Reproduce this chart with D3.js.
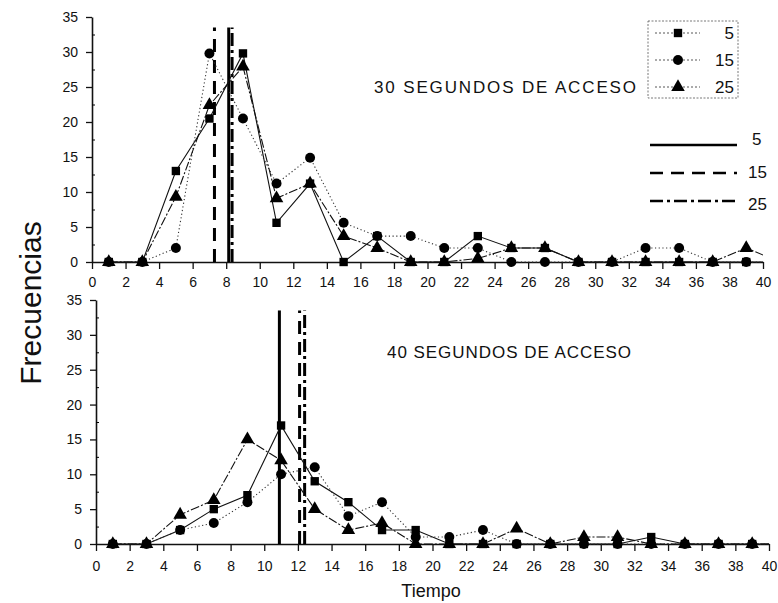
<!DOCTYPE html>
<html>
<head>
<meta charset="utf-8">
<script src="https://cdn.jsdelivr.net/npm/d3@7"></script>
<style>
  html, body { margin: 0; padding: 0; background: #fff; }
  svg { display: block; }
  text { font-family: "Liberation Sans", Arial, sans-serif; fill: #111; }
</style>
</head>
<body>
<svg id="chart" width="778" height="603"></svg>
<script>
// Time classes (odd seconds); 41 lies just past the axis and is clipped
const tiempo = [1, 3, 5, 7, 9, 11, 13, 15, 17, 19, 21, 23, 25, 27, 29, 31, 33, 35, 37, 39, 41];

// 30 s access: frequencies per series
const frec30_5  = [0, 0, 13, 20.5, 29.8, 5.6, 11.2, 0, 3.7, 0, 0, 3.7, 2, 2, 0, 0, 0, 0, 0, 0, 0];
const frec30_15 = [0, 0, 2, 29.8, 20.5, 11.2, 14.9, 5.6, 3.7, 3.7, 2, 2, 0, 0, 0, 0, 2, 2, 0, 0, 0];
const frec30_25 = [0, 0, 9.3, 22.4, 27.9, 9.1, 11.2, 3.7, 2, 0, 0, 0.5, 2, 2, 0, 0, 0, 0, 0, 2, 0];

// 40 s access: frequencies per series
const frec40_5  = [0, 0, 2, 5, 7, 17, 9, 6, 2, 2, 0, 0, 0, 0, 0, 0, 1, 0, 0, 0, 0];
const frec40_15 = [0, 0, 2, 3, 6, 10, 11, 4, 6, 1, 1, 2, 0, 0, 0, 0, 0, 0, 0, 0, 0];
const frec40_25 = [0, 0, 4.2, 6.3, 15, 12, 5, 2, 3, 0, 0, 0, 2.2, 0, 1, 1, 0, 0, 0, 0, 0];

// Mean times drawn as vertical reference lines (series 5, 15, 25)
const medias30 = [8.15, 7.3, 8.35];
const medias40 = [10.9, 12.1, 12.4];
const alturaMedia = 33.5;

const seriesNames = ["5", "15", "25"];
const xTicks = d3.range(0, 41, 2);
const yTicks = d3.range(0, 36, 5);
const yMinor = d3.range(2.5, 35, 5);

const svg = d3.select("#chart");

const serieStyle = [
  { symbol: d3.symbolSquare, size: 70, dash: null, width: 1.1, stroke: "#111" },
  { symbol: d3.symbolCircle, size: 78, dash: "1.2,2.5", width: 1.1, stroke: "#333" },
  { symbol: d3.symbolTriangle, size: 80, dash: "9,2,2,2", width: 1.1, stroke: "#111" }
];
const mediaStyle = [
  { dash: null },
  { dash: "13,8" },
  { dash: "13,4,3,4" }
];

function panel(cfg) {
  const x = d3.scaleLinear().domain([0, 40]).range(cfg.xr);
  const y = d3.scaleLinear().domain([0, 35]).range(cfg.yr);
  const g = svg.append("g");

  const clipId = "clip" + cfg.id;
  svg.append("defs").append("clipPath").attr("id", clipId)
    .append("rect").attr("x", cfg.xr[0] - 12).attr("y", 0)
    .attr("width", cfg.xr[1] - cfg.xr[0] + 12).attr("height", 603);

  // x axis
  const xa = g.append("g").attr("transform", `translate(0,${cfg.yr[0]})`)
    .call(d3.axisBottom(x).tickValues(xTicks).tickSize(7).tickPadding(cfg.xPad).tickSizeOuter(0));
  // y axis
  const ya = g.append("g").attr("transform", `translate(${cfg.xr[0]},0)`)
    .call(d3.axisLeft(y).tickValues(yTicks).tickSize(6).tickPadding(8).tickSizeOuter(0));
  g.append("g").attr("transform", `translate(${cfg.xr[0]},0)`)
    .call(d3.axisRight(y).tickValues(yMinor).tickSize(3).tickFormat(""))
    .call(s => s.select(".domain").remove());
  [xa, ya].forEach(a => {
    a.selectAll("text").style("font-size", "14px").style("font-family", '"Liberation Sans", Arial, sans-serif').attr("fill", "#111");
    a.selectAll("line").attr("stroke", "#111").attr("stroke-width", 1.3);
    a.select(".domain").attr("stroke", "#111").attr("stroke-width", 1.6);
  });

  // title
  g.append("text").attr("x", cfg.titleX).attr("y", cfg.titleY)
    .attr("text-anchor", "middle").style("font-size", "17px")
    .attr("textLength", cfg.titleW).attr("lengthAdjust", "spacing")
    .text(cfg.title);

  const plot = g.append("g").attr("clip-path", `url(#${clipId})`);

  // vertical mean lines
  cfg.medias.forEach((m, i) => {
    plot.append("line")
      .attr("x1", x(m)).attr("x2", x(m))
      .attr("y1", y(0)).attr("y2", y(alturaMedia))
      .attr("stroke", "#000").attr("stroke-width", 3)
      .attr("stroke-dasharray", mediaStyle[i].dash);
  });

  // series lines and markers
  const line = d3.line().x((d, i) => x(tiempo[i])).y(d => y(d));
  cfg.series.forEach((vals, k) => {
    const st = serieStyle[k];
    plot.append("path").datum(vals)
      .attr("d", line).attr("fill", "none")
      .attr("stroke", st.stroke).attr("stroke-width", st.width)
      .attr("stroke-dasharray", st.dash);
  });
  cfg.series.forEach((vals, k) => {
    const st = serieStyle[k];
    plot.selectAll(null).data(vals).enter().append("path")
      .attr("transform", (d, i) => `translate(${x(tiempo[i])},${y(d)})`)
      .attr("d", d3.symbol().type(st.symbol).size(st.size)())
      .attr("fill", "#000");
  });
  return { x, y };
}

panel({
  id: "a", xr: [92, 763], yr: [262, 17], xPad: 8,
  title: "30 SEGUNDOS DE ACCESO", titleX: 505, titleY: 93, titleW: 262,
  medias: medias30, series: [frec30_5, frec30_15, frec30_25]
});
panel({
  id: "b", xr: [96, 769], yr: [544, 300], xPad: 10,
  title: "40 SEGUNDOS DE ACCESO", titleX: 509, titleY: 358, titleW: 244,
  medias: medias40, series: [frec40_5, frec40_15, frec40_25]
});

// marker legend
const lg = svg.append("g");
lg.append("rect").attr("x", 648).attr("y", 21).attr("width", 90).attr("height", 77)
  .attr("fill", "none").attr("stroke", "#555").attr("stroke-width", 0.8)
  .attr("stroke-dasharray", "2,1.5");
seriesNames.forEach((name, k) => {
  const yy = 33 + k * 27;
  const st = serieStyle[k];
  lg.append("line").attr("x1", 655).attr("x2", 700).attr("y1", yy).attr("y2", yy)
    .attr("stroke", "#444").attr("stroke-width", 0.9).attr("stroke-dasharray", "2,2");
  lg.append("path").attr("transform", `translate(678,${yy})`)
    .attr("d", d3.symbol().type(st.symbol).size(st.size)()).attr("fill", "#000");
  lg.append("text").attr("x", 734).attr("y", yy + 6).attr("text-anchor", "end")
    .style("font-size", "17px").text(name);
});

// mean-line legend
const lg2 = svg.append("g");
seriesNames.forEach((name, k) => {
  const yy = 145 + k * 28;
  lg2.append("line").attr("x1", 650).attr("x2", 737).attr("y1", yy).attr("y2", yy)
    .attr("stroke", "#000").attr("stroke-width", 2.5)
    .attr("stroke-dasharray", mediaStyle[k].dash);
  lg2.append("text").attr("x", k === 0 ? 752 : 748).attr("y", yy + [0, 5, 9][k])
    .style("font-size", "17px").text(name);
});

// axis titles
svg.append("text").attr("transform", "translate(41,303) rotate(-90)")
  .attr("text-anchor", "middle").style("font-size", "30px").text("Frecuencias");
svg.append("text").attr("x", 431).attr("y", 597)
  .attr("text-anchor", "middle").style("font-size", "18px").text("Tiempo");
</script>
</body>
</html>
